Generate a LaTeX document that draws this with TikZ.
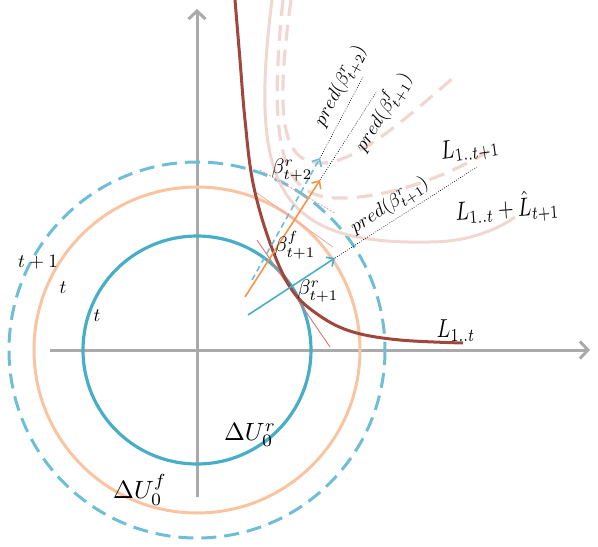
\documentclass[tikz,border=0pt]{standalone}
\usetikzlibrary{arrows.meta}
\definecolor{axisgray}{RGB}{170,170,170}
\definecolor{cblue}{RGB}{72,174,200}
\definecolor{cbluel}{RGB}{110,190,215}
\definecolor{corange}{RGB}{250,196,160}
\definecolor{carrow}{RGB}{245,148,75}
\definecolor{cbrown}{RGB}{160,70,60}
\definecolor{cpink}{RGB}{240,215,210}
\definecolor{cthin}{RGB}{215,120,115}
\newcommand{\lbA}[1]{\scalebox{1.9}{$#1$}}
\newcommand{\lbC}[1]{\scalebox{2.1}{$#1$}}
\newcommand{\lbB}[1]{\scalebox{2.5}{$#1$}}
\newcommand{\lbL}[1]{\scalebox{2.0}[2.6]{$#1$}}
\newcommand{\lbP}[1]{\scalebox{1.9}{$#1$}}
\tikzset{
  axisline/.style={draw=axisgray, line width=3pt, -{Straight Barb[length=8pt,width=17pt,line width=3pt]}},
  vecarrow/.style={line width=1.6pt, -{Straight Barb[length=6pt,width=11pt,line width=1.6pt]}},
  pinksolid/.style={draw=cpink, line width=3pt},
  pinkdash/.style={draw=cpink, line width=3.2pt, dash pattern=on 16pt off 9pt},
  dotline/.style={draw=black, line width=0.6pt, dash pattern=on 0.8pt off 1.6pt},
  lab/.style={inner sep=0pt}
}
\begin{document}
\begin{tikzpicture}[x=1pt,y=-1pt]
\useasboundingbox (0,0) rectangle (598,547);
% axes
\coordinate (xs) at (50,350);
\coordinate (xe) at (590,350);
\coordinate (ys) at (197,497);
\coordinate (ye) at (197,9);
\coordinate (O) at (197,350);
\draw[axisline] (xs) -- (xe);
\draw[axisline] (ys) -- (ye);
% circles
\draw[cbluel, line width=3pt, dash pattern=on 15pt off 8pt] (O) circle[radius=188];
\draw[corange, line width=3pt] (O) circle[radius=163];
\draw[cblue, line width=3.2pt] (O) circle[radius=114];
% pink curves
\coordinate (s0) at (272,0);
\coordinate (s1) at (430,242);
\coordinate (s2) at (515,217);
\draw[pinksolid] (s0) .. controls (248,190) and (280,245) .. (s1) .. controls (470,242) and (500,228) .. (s2);
\coordinate (d0) at (283,0);
\coordinate (d1) at (345,198);
\coordinate (d2) at (495,147);
\draw[pinkdash] (d0) .. controls (265,170) and (290,200) .. (d1) .. controls (400,196) and (460,170) .. (d2);
\coordinate (e0) at (291,0);
\coordinate (e1) at (325,163);
\coordinate (e2) at (453,78);
\draw[pinkdash] (e0) .. controls (273,130) and (285,165) .. (e1) .. controls (360,160) and (410,115) .. (e2);
% thin tangent lines
\coordinate (ta) at (257,193);
\coordinate (tb) at (333,247);
\coordinate (tc) at (260,170);
\coordinate (td) at (335,213);
\draw[cthin!60, line width=0.8pt] (ta) -- (tb);
\draw[cthin!70, line width=0.8pt, dash pattern=on 2pt off 1.5pt] (tc) -- (td);
\coordinate (tg1) at (257,240);
\coordinate (tg2) at (330,347);
\draw[cthin, line width=0.9pt] (tg1) -- (tg2);
% brown curve
\draw[cbrown, line width=3pt] plot[smooth, tension=0.6] coordinates {(235,0) (240,60) (245,120) (253,183) (270,243) (292,290) (320,316) (353,332) (400,340) (463,343)};
% arrows
\coordinate (r1t) at (248,315);
\coordinate (r1h) at (335,258);
\coordinate (r1p) at (477,167);
\coordinate (f1t) at (245,297);
\coordinate (f1h) at (320,180);
\coordinate (f1p) at (377,91);
\coordinate (r2t) at (252,280);
\coordinate (r2h) at (320,158);
\coordinate (r2p) at (363,77);
\draw[dotline] (r1h) -- (r1p);
\draw[dotline] (f1h) -- (f1p);
\draw[dotline] (r2h) -- (r2p);
\draw[vecarrow, cblue] (r1t) -- (r1h);
\draw[vecarrow, carrow] (f1t) -- (f1h);
\draw[vecarrow, cbluel, dash pattern=on 6pt off 4pt] (r2t) -- (r2h);
% labels
\node[lab] (lt1) at (38,262) {\lbA{t+1}};
\node[lab] (lt2) at (63,288) {\lbA{t}};
\node[lab] (lt3) at (97,316) {\lbA{t}};
\node[lab] (lur) at (250,435) {\lbB{\Delta U_0^{r}}};
\node[lab] (luf) at (140,490) {\lbB{\Delta U_0^{f}}};
\node[lab] (lb2) at (292,170) {\lbC{\beta^{r}_{t+2}}};
\node[lab] (lbf) at (295,245) {\lbC{\beta^{f}_{t+1}}};
\node[lab] (lbr) at (318,291) {\lbC{\beta^{r}_{t+1}}};
\node[lab] (lL) at (456,331) {\lbL{L_{1..t}}};
\node[lab, rotate=8] (lL1) at (470,150) {\lbL{L_{1..t+1}}};
\node[lab, rotate=4] (lLh) at (507,208) {\lbL{L_{1..t}+\hat{L}_{t+1}}};
\node[lab, rotate=62] (p2) at (341,86) {\lbP{pred(\beta^{r}_{t+2})}};
\node[lab, rotate=58] (pf) at (383,112) {\lbP{pred(\beta^{f}_{t+1})}};
\node[lab, rotate=33] (pr) at (390,206) {\lbP{pred(\beta^{r}_{t+1})}};
\end{tikzpicture}
\end{document}
